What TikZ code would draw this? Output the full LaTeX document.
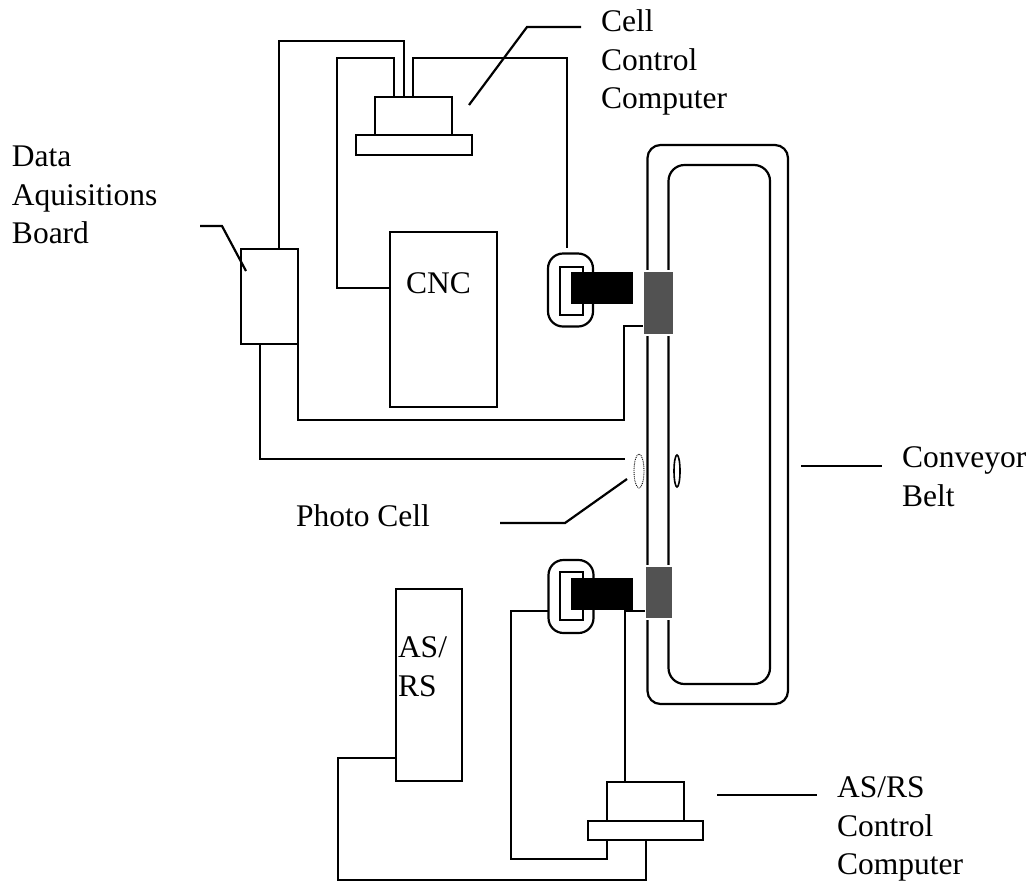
\documentclass[tikz,border=0pt]{standalone}
\usepackage{fontspec}
\setmainfont{Liberation Serif}
\usetikzlibrary{calc,shapes.geometric}

\begin{document}
\begin{tikzpicture}[
    x=1pt,
    y=-1pt,
    box/.style={
        rectangle,
        draw=black,
        line width=2.2pt,
        inner sep=0pt,
        outer sep=0pt
    },
    loop/.style={
        box,
        rounded corners=13pt
    },
    gripper/.style={
        box,
        rounded corners=15pt,
        minimum width=45pt,
        minimum height=73pt
    },
    jaw/.style={
        box,
        minimum width=23pt,
        minimum height=48pt
    },
    arm/.style={
        rectangle,
        fill=black,
        inner sep=0pt,
        outer sep=0pt,
        minimum width=62pt,
        minimum height=32pt
    },
    station/.style={
        rectangle,
        draw=white,
        line width=2pt,
        fill=black!68,
        inner sep=0pt,
        outer sep=0pt
    },
    wire/.style={
        line width=2.2pt,
        line join=miter
    },
    label/.style={
        font=\fontsize{31.5}{38.5}\selectfont,
        align=left,
        anchor=north west,
        inner sep=0pt,
        outer sep=0pt
    }
]
\useasboundingbox (0,0) rectangle (1035,884);

% conveyor
\node[loop, minimum width=140.5pt, minimum height=559pt] (beltouter) at (717.75,424.5) {};
\node[loop, rounded corners=16pt, minimum width=101.5pt, minimum height=519pt] (beltinner) at (719.25,424.5) {};
\node[station, minimum width=31pt, minimum height=64pt] (stationtop) at (658,302.5) {};
\node[station, minimum width=28pt, minimum height=53pt] (stationbot) at (658.5,592) {};

% computers and machines
\node[box, minimum width=77pt, minimum height=38pt] (cellbody) at (413.5,116) {};
\node[box, minimum width=116pt, minimum height=20pt] (cellbase) at (414,145) {};
\node[box, minimum width=107pt, minimum height=175pt] (cnc) at (443.5,319.5) {};
\node[box, minimum width=57pt, minimum height=95pt] (board) at (269.5,296.5) {};
\node[box, minimum width=66pt, minimum height=192pt] (asrs) at (429,685) {};
\node[box, minimum width=77pt, minimum height=39pt] (asrsbody) at (645.5,801.5) {};
\node[box, minimum width=115pt, minimum height=19pt] (asrsbase) at (645.5,830.5) {};

% robots
\node[gripper] (grippertop) at (570.5,290) {};
\node[jaw] (jawtop) at (571.5,291) {};
\node[arm] (armtop) at (602,288) {};
\node[gripper] (gripperbot) at (571,596.5) {};
\node[jaw] (jawbot) at (571.5,596) {};
\node[arm] (armbot) at (602,594) {};

% photo cell
\node[ellipse, draw=black, densely dotted, line width=0.9pt, inner sep=0pt, minimum width=10pt, minimum height=34pt] (photosend) at (639,471) {};
\node[ellipse, draw=black, line width=1.6pt, inner sep=0pt, minimum width=6pt, minimum height=32pt] (photorecv) at (677,471) {};

% wire ends
\coordinate (cellportA) at (394,97);
\coordinate (cellportB) at (404,97);
\coordinate (cellportC) at (413,97);
\coordinate (cncport) at (390,288);
\coordinate (boardportA) at (279,249);
\coordinate (boardportB) at (298,344);
\coordinate (boardportC) at (260,344);
\coordinate (topend) at (567,248);
\coordinate (stationtopport) at (643,326);
\coordinate (photoend) at (625,459);
\coordinate (gripperbotport) at (549,611);
\coordinate (stationbotport) at (645,611);
\coordinate (asrsbodyport) at (625,782);
\coordinate (asrsbaseportA) at (607,840);
\coordinate (asrsbaseportB) at (646,840);
\coordinate (asrsport) at (396,758);

\draw[wire] (cellportA) -- (394,58) -- (337,58) |- (cncport);
\draw[wire] (cellportB) -- (404,41) -| (boardportA);
\draw[wire] (cellportC) -- (413,58) -| (topend);
\draw[wire] (boardportB) |- (624,420) |- (stationtopport);
\draw[wire] (boardportC) |- (photoend);
\draw[wire] (gripperbotport) -| (511,859) -| (asrsbaseportA);
\draw[wire] (stationbotport) -| (asrsbodyport);
\draw[wire] (asrsbaseportB) |- (338,880) |- (asrsport);

% leaders
\draw[wire] (469,105) -- (527,27) -- (581,27);
\draw[wire] (200,226) -- (222,226) -- (246,271);
\draw[wire] (500,523) -- (565,523) -- (627,479);
\draw[wire] (801,466) -- (882,466);
\draw[wire] (717,795) -- (817,795);

% labels
\node[label] (celllabel) at (601,10) {Cell\\Control\\Computer};
\node[label] (boardlabel) at (12,146) {Data\\Aquisitions\\Board};
\node[label] (photolabel) at (296,505) {Photo Cell};
\node[label] (beltlabel) at (902,447) {Conveyor\\Belt};
\node[label] (asrslabel) at (837,777) {AS/RS\\Control\\Computer};
\node[label] (cnclabel) at (406,273) {CNC};
\node[label] (asrstext) at (398,637) {AS/\\RS};

\end{tikzpicture}
\end{document}
